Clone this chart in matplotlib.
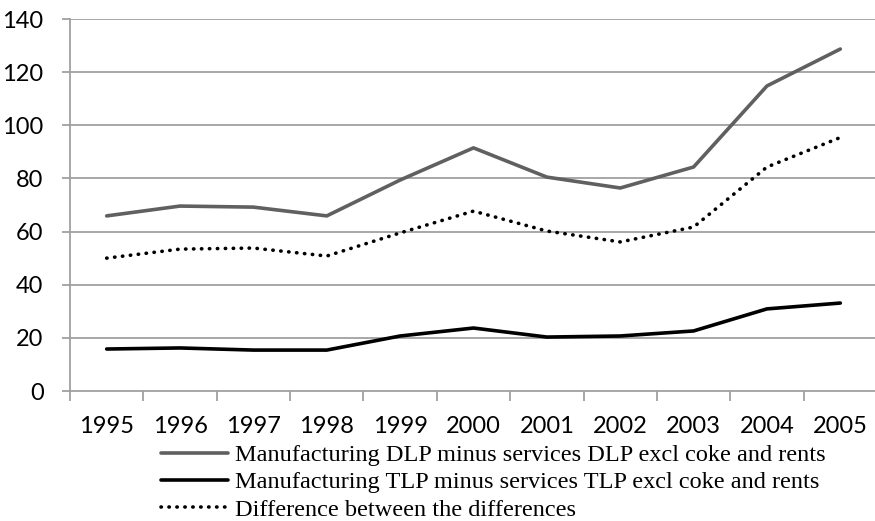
import matplotlib
matplotlib.use("Agg")
import matplotlib.pyplot as plt
from matplotlib.ticker import FixedLocator

years = ["1995", "1996", "1997", "1998", "1999", "2000", "2001", "2002", "2003", "2004", "2005"]
dlp = [65.9, 69.6, 69.2, 65.9, 79.4, 91.5, 80.5, 76.4, 84.3, 114.8, 128.7]
tlp = [15.8, 16.2, 15.4, 15.4, 20.7, 23.7, 20.3, 20.7, 22.6, 30.9, 33.1]
diff = [50.0, 53.4, 53.8, 50.8, 59.5, 67.7, 60.2, 56.1, 61.7, 84.3, 95.4]
labels = ["Manufacturing DLP minus services DLP excl coke and rents",
          "Manufacturing TLP minus services TLP excl coke and rents",
          "Difference between the differences"]

fig = plt.figure(figsize=(8.75, 5.21), dpi=100)
ax = fig.add_axes([70/875, 1-391/521, 807/875, 372/521])
x = list(range(len(years)))
grid_c = "#a0a0a0"
l1, = ax.plot(x, dlp, color="#606060", lw=2.6, solid_joinstyle="round", solid_capstyle="round", zorder=3)
l2, = ax.plot(x, tlp, color="black", lw=2.6, solid_joinstyle="round", solid_capstyle="round", zorder=3)
l3, = ax.plot(x, diff, color="black", lw=2.6, linestyle=(0, (0.1, 2.1)), dash_capstyle="round", zorder=3)

ax.set_xlim(-0.5, len(years) - 0.5)
ax.set_ylim(0, 140)
ax.set_yticks(range(0, 141, 20))
for yv in range(20, 141, 20):
    ax.axhline(yv, color=grid_c, lw=1.3, zorder=1)
for s in ["top", "right"]:
    ax.spines[s].set_visible(False)
ax.spines["left"].set_color(grid_c)
ax.spines["bottom"].set_color(grid_c)
ax.spines["left"].set_linewidth(1.3)
ax.spines["bottom"].set_linewidth(1.3)

ax.set_xticks(x)
ax.set_xticklabels(years)
ax.xaxis.set_minor_locator(FixedLocator([i - 0.5 for i in range(len(years) + 1)]))
ax.tick_params(axis="x", which="major", length=0, pad=18)
ax.tick_params(axis="x", which="minor", length=7, width=1.3, color=grid_c)
ax.tick_params(axis="y", length=6, width=1.3, color=grid_c, pad=13)
for t in ax.get_xticklabels() + ax.get_yticklabels():
    t.set_fontfamily("Lato")
    t.set_fontsize(17)
    t.set_color("black")

leg = fig.legend([l1, l2, l3], labels, loc="upper left", bbox_to_anchor=(161/875, 1-444/521),
                 frameon=False, prop={"family": "Liberation Serif", "size": 17.5},
                 handlelength=2.75, handletextpad=0.3, labelspacing=0.22, borderpad=0, borderaxespad=0)
fig.savefig("out.png", dpi=100)
